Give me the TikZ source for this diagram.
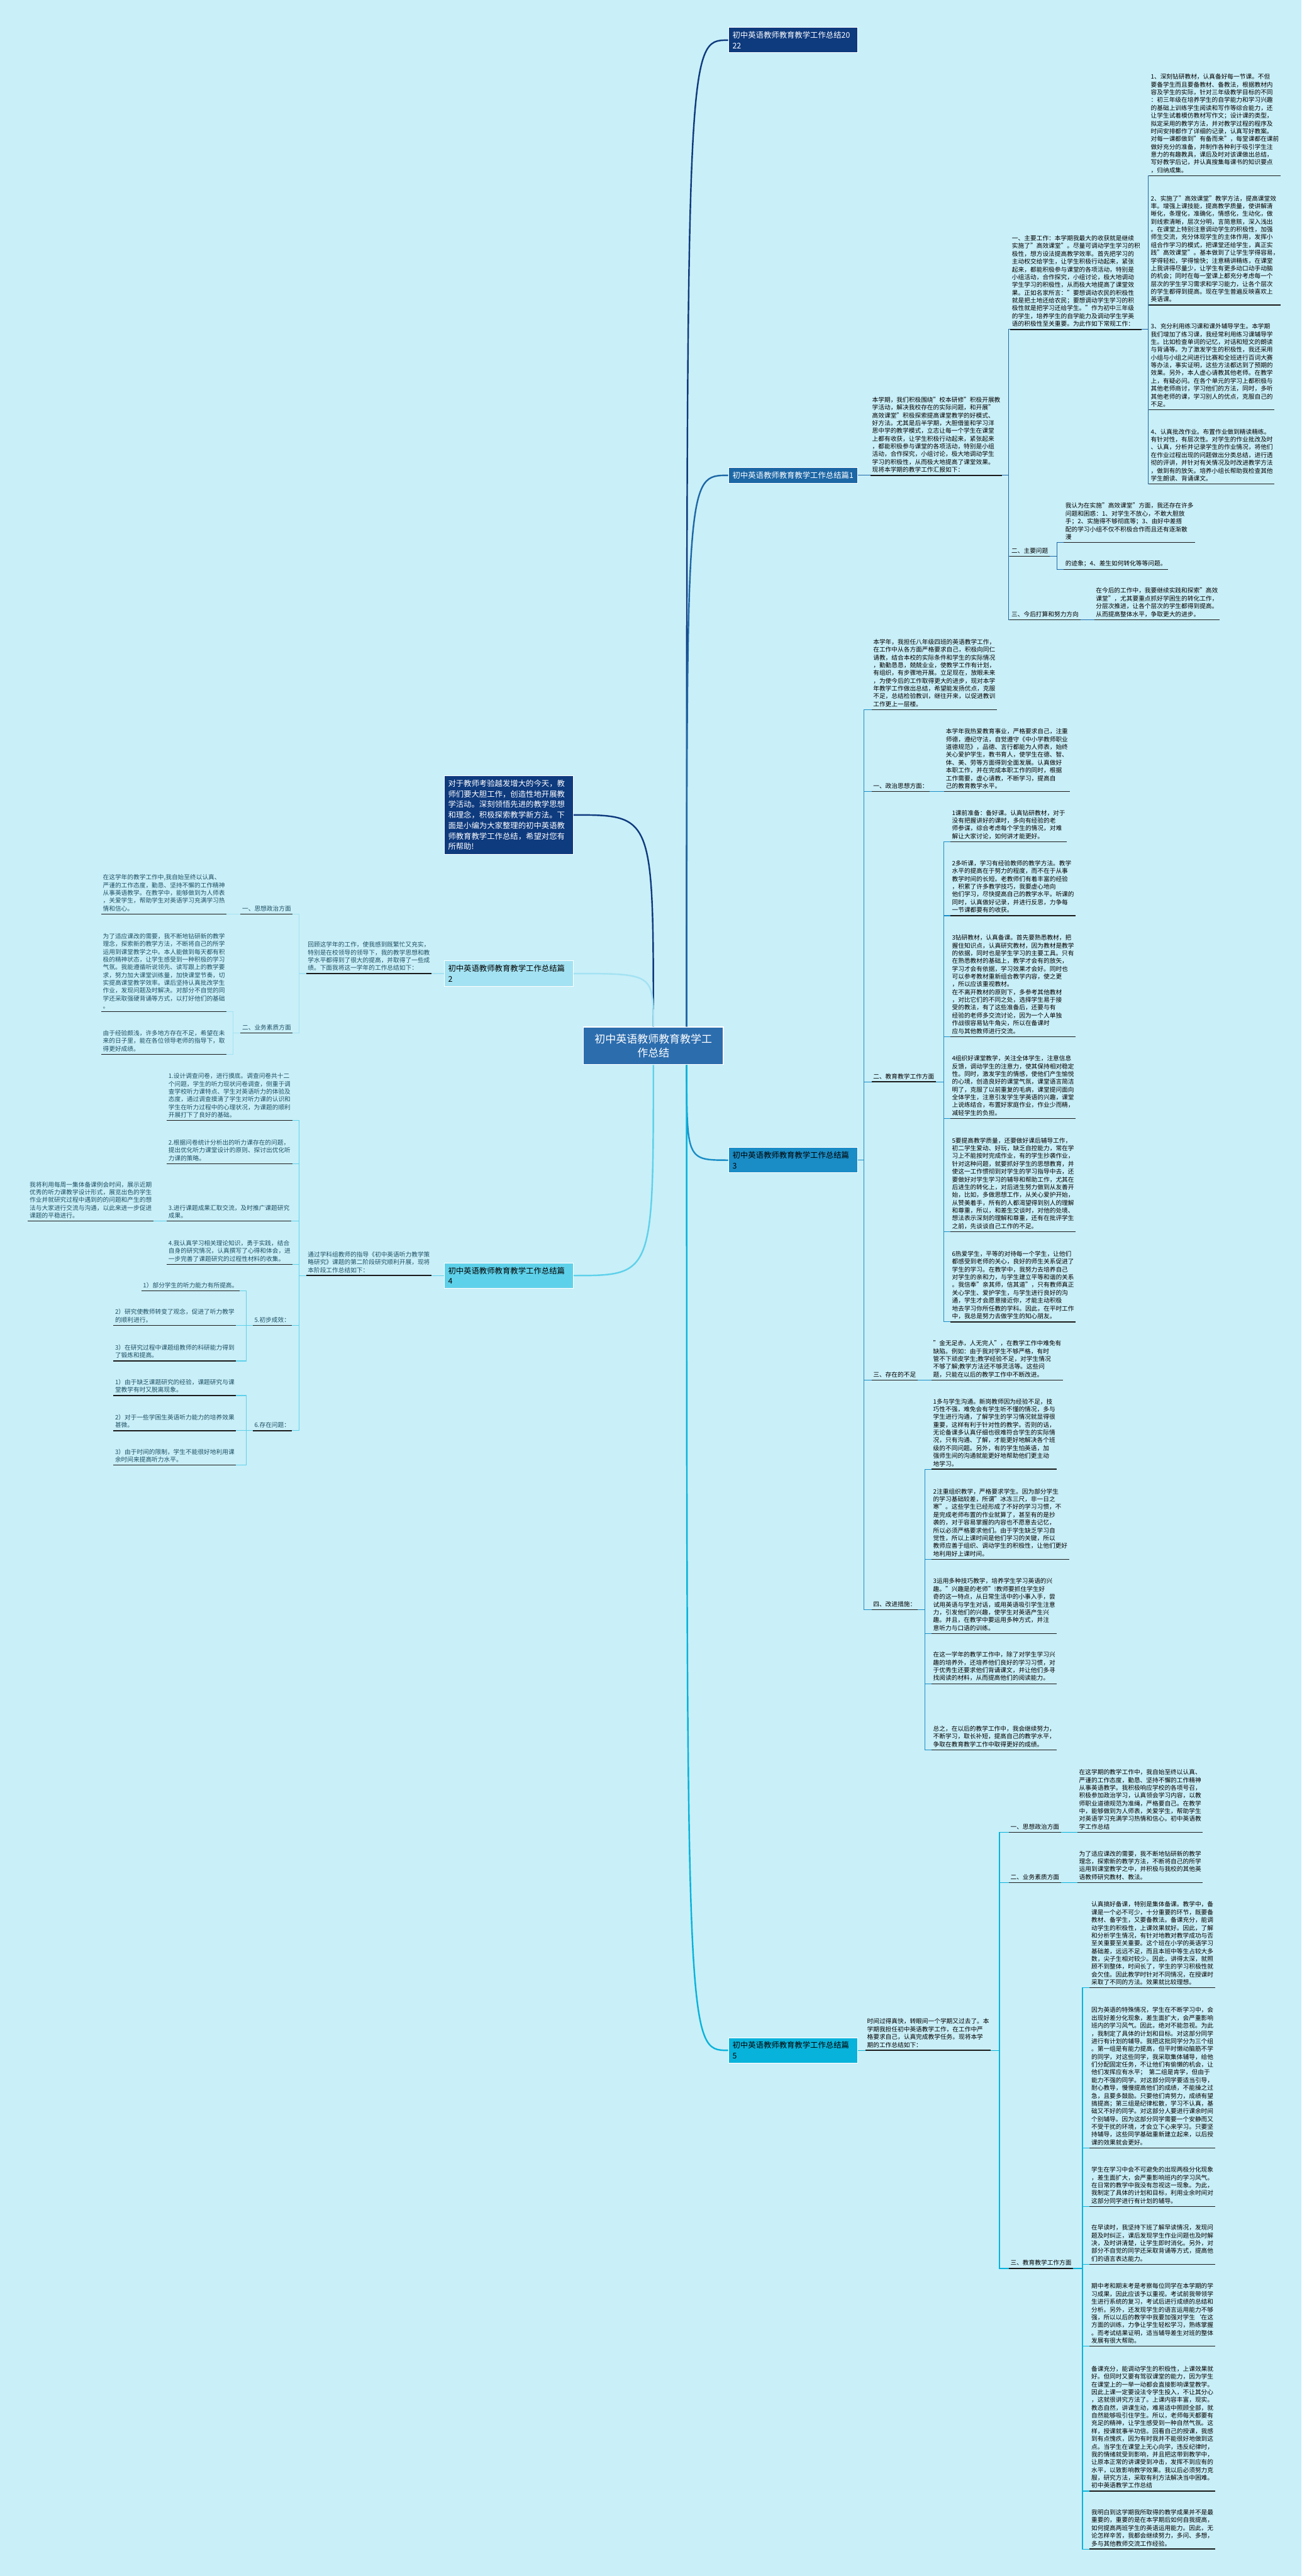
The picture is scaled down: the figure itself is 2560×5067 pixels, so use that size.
\documentclass[tikz,border=0pt]{standalone}
\usepackage{fontspec}
\setmainfont{Noto Sans CJK SC}
\usetikzlibrary{positioning}
\definecolor{mmBg}{HTML}{C9EFF8}
\definecolor{mmRoot}{HTML}{2C6DAE}
\definecolor{mmNavy}{HTML}{0E3A7E}
\definecolor{mmOne}{HTML}{1C67A6}
\definecolor{mmTwo}{HTML}{A3E2F2}
\definecolor{mmThree}{HTML}{1A8DC6}
\definecolor{mmFour}{HTML}{5ED1EA}
\definecolor{mmFive}{HTML}{08B3DB}
\definecolor{mmInk}{HTML}{1D4F63}
\definecolor{mmLine}{HTML}{1A1A1A}

\begin{document}
\begin{tikzpicture}[x=0.5pt, y=-0.5pt,
  topic/.style={draw=white, line width=0.6pt, anchor=west, text width=119pt, align=left,
                inner xsep=4pt, inner ysep=4pt, font=\fontsize{7.65pt}{10.35pt}\selectfont},
  root/.style={draw=white, line width=0.8pt, fill=mmRoot, text=white, align=center,
               minimum width=137.5pt, minimum height=37pt, font=\fontsize{10.5pt}{13.5pt}\selectfont},
  txt/.style={anchor=south west, align=left, inner xsep=1.5pt, inner ysep=2.5pt,
              font=\fontsize{6pt}{7.65pt}\selectfont},
  uline/.style={draw=mmLine, line width=0.9pt},
  curve/.style={line width=1.5pt},
  br/.style={line width=0.8pt},
]

% ── canvas ────────────────────────────────────────────────────────────────────
\fill[mmBg] (0,0) rectangle (2560,5067);
\useasboundingbox (0,0) rectangle (2560,5067);

% ── centre and first level ───────────────────────────────────────────────────
\node[root] (root) at (1285,2057) {初中英语教师教育教学工\\作总结};

\node[topic, fill=mmNavy, text=white] (t2022) at (1432,79) {初中英语教师教育教学工作总结20\\22};
\node[topic, fill=mmOne, text=white] (p1) at (1432,935) {初中英语教师教育教学工作总结篇1};
\node[topic, fill=mmThree] (p3) at (1432,2282) {初中英语教师教育教学工作总结篇\\3};
\node[topic, fill=mmFive] (p5) at (1432,4033) {初中英语教师教育教学工作总结篇\\5};
\node[topic, anchor=east, fill=mmNavy, text=white] (lead) at (1128,1603)
  {对于教师考验越发增大的今天，教\\师们要大胆工作，创造性地开展教\\学活动。深刻领悟先进的教学思想\\和理念，积极探索教学新方法。下\\面是小编为大家整理的初中英语教\\师教育教学工作总结，希望对您有\\所帮助!};
\node[topic, anchor=east, fill=mmTwo] (p2) at (1128,1915) {初中英语教师教育教学工作总结篇\\2};
\node[topic, anchor=east, fill=mmFour] (p4) at (1128,2509) {初中英语教师教育教学工作总结篇\\4};

\draw[curve, mmNavy]  (root.30) .. controls (root.30 |- t2022.west) .. (t2022.west);
\draw[curve, mmOne]   (root.30) .. controls (root.30 |- p1.west) .. (p1.west);
\draw[curve, mmThree] (root.-30) .. controls (root.-30 |- p3.west) .. (p3.west);
\draw[curve, mmFive]  (root.-30) .. controls (root.-30 |- p5.west) .. (p5.west);
\draw[curve, mmNavy]  (root.north) .. controls (root.north |- lead.east) .. (lead.east);
\draw[curve, mmTwo]   (root.north) .. controls (root.north |- p2.east) .. (p2.east);
\draw[curve, mmFour]  (root.south) .. controls (root.south |- p4.east) .. (p4.east);

% ── 篇1 ──────────────────────────────────────────────────────────────────────
\node[txt] (i1) at (1712,935) {本学期，我们积极围绕"校本研修"积极开展教\\学活动，解决我校存在的实际问题，和开展"\\高效课堂"积极探索提高课堂教学的好模式、\\好方法。尤其是后半学期，大胆借鉴和学习洋\\思中学的教学模式，立志让每一个学生在课堂\\上都有收获，让学生积极行动起来，紧张起来\\，都能积极参与课堂的各项活动，特别是小组\\活动，合作探究，小组讨论，极大地调动学生\\学习的积极性，从而极大地提高了课堂效果。\\现将本学期的教学工作汇报如下：};
\node[txt] (a1) at (1987,648) {一、主要工作：本学期我最大的收获就是继续\\实施了"高效课堂"。尽量可调动学生学习的积\\极性，想方设法提高教学效率。首先把学习的\\主动权交给学生，让学生积极行动起来，紧张\\起来，都能积极参与课堂的各项活动，特别是\\小组活动，合作探究，小组讨论，极大地调动\\学生学习的积极性，从而极大地提高了课堂效\\果。正如名家所言："要想调动农民的积极性\\就是把土地还给农民；要想调动学生学习的积\\极性就是把学习还给学生。"作为初中三年级\\的学生，培养学生的自学能力及调动学生学英\\语的积极性至关重要。为此作如下常规工作：};
\node[txt] (a2) at (1986,1094) {二、主要问题};
\node[txt] (a3) at (1986,1219) {三、今后打算和努力方向};
\node[txt] (a1c1) at (2260,346) {1、深刻钻研教材，认真备好每一节课。不但\\要备学生而且要备教材、备教法，根据教材内\\容及学生的实际，针对三年级教学目标的不同\\：初三年级在培养学生的自学能力和学习兴趣\\的基础上训练学生阅读和写作等综合能力，还\\让学生试着模仿教材写作文；设计课的类型，\\拟定采用的教学方法，并对教学过程的程序及\\时间安排都作了详细的记录，认真写好教案。\\对每一课都做到"有备而来"，每堂课都在课前\\做好充分的准备，并制作各种利于吸引学生注\\意力的有趣教具，课后及时对该课做出总结，\\写好教学后记，并认真搜集每课书的知识要点\\，归纳成集。};
\node[txt] (a1c2) at (2260,600) {2、实施了"高效课堂"教学方法，提高课堂效\\率。增强上课技能，提高教学质量，使讲解清\\晰化，条理化，准确化，情感化，生动化，做\\到线索清晰，层次分明，言简意赅，深入浅出\\。在课堂上特别注意调动学生的积极性，加强\\师生交流，充分体现学生的主体作用，发挥小\\组合作学习的模式，把课堂还给学生，真正实\\践"高效课堂"。基本做到了让学生学得容易，\\学得轻松，学得愉快；注意精讲精练，在课堂\\上我讲得尽量少，让学生有更多动口动手动脑\\的机会；同时在每一堂课上都充分考虑每一个\\层次的学生学习需求和学习能力，让各个层次\\的学生都得到提高。现在学生普遍反映喜欢上\\英语课。};
\node[txt] (a1c3) at (2260,806) {3、充分利用练习课和课外辅导学生。本学期\\我们增加了练习课，我经常利用练习课辅导学\\生。比如检查单词的记忆，对话和短文的朗读\\与背诵等。为了激发学生的积极性，我还采用\\小组与小组之间进行比赛和全班进行百词大赛\\等办法，事实证明，这些方法都达到了预期的\\效果。另外，本人虚心请教其他老师。在教学\\上，有疑必问。在各个单元的学习上都积极与\\其他老师商讨，学习他们的方法，同时，多听\\其他老师的课，学习别人的优点，克服自己的\\不足。};
\node[txt] (a1c4) at (2260,952) {4、认真批改作业。布置作业做到精读精练。\\有针对性，有层次性。对学生的作业批改及时\\、认真，分析并记录学生的作业情况，将他们\\在作业过程出现的问题做出分类总结，进行透\\彻的评讲，并针对有关情况及时改进教学方法\\，做到有的放矢。培养小组长帮助我检查其他\\学生朗读、背诵课文。};
\node[txt] (a2c1) at (2092,1067) {我认为在实施"高效课堂"方面，我还存在许多\\问题和困惑：1、对学生不放心，不敢大胆放\\手；2、实施得不够彻底等；3、由好中差搭\\配的学习小组不仅不积极合作而且还有逐渐散\\漫};
\node[txt] (a2c2) at (2092,1120) {的迹象；4、差生如何转化等等问题。};
\node[txt] (a3c) at (2152,1219) {在今后的工作中，我要继续实践和探索"高效\\课堂"，尤其要重点抓好学困生的转化工作，\\分层次推进，让各个层次的学生都得到提高。\\从而提高整体水平，争取更大的进步。};

\draw[br, mmOne] (p1.east) -- (i1.south west);
\foreach \c in {a1,a2,a3} \draw[br, mmOne] (i1.south east) -- ++(13,0) |- (\c.south west);
\foreach \c in {a1c1,a1c2,a1c3,a1c4} \draw[br, mmOne] (a1.south east) -- ++(12,0) |- (\c.south west);
\foreach \c in {a2c1,a2c2} \draw[br, mmOne] (a2.south east) -- ++(14,0) |- (\c.south west);
\draw[br, mmOne] (a3.south east) -- (a3c.south west);

% ── 篇2 ──────────────────────────────────────────────────────────────────────
\node[txt, text=mmInk] (i2) at (602,1915) {回顾这学年的工作，使我感到既繁忙又充实，\\特别是在校领导的领导下，我的教学思想和教\\学水平都得到了很大的提高，并取得了一些成\\绩。下面我将这一学年的工作总结如下：};
\node[txt, text=mmInk] (b1) at (473,1798) {一、思想政治方面};
\node[txt, text=mmInk] (b2) at (473,2032) {二、业务素质方面};
\node[txt, text=mmInk] (b1c) at (199,1798) {在这学年的教学工作中,我自始至终以认真、\\严谨的工作态度，勤恳、坚持不懈的工作精神\\从事英语教学。在教学中，能够做到为人师表\\，关爱学生，帮助学生对英语学习充满学习热\\情和信心。};
\node[txt, text=mmInk] (b2c1) at (199,1990) {为了适应课改的需要，我不断地钻研新的教学\\理念，探索新的教学方法，不断将自己的所学\\运用到课堂教学之中。本人能做到每天都有积\\极的精神状态，让学生感受到一种积极的学习\\气氛。我能遵循听说领先、读写跟上的教学要\\求，努力加大课堂训练量，加快课堂节奏，切\\实提高课堂教学效率。课后坚持认真批改学生\\作业，发现问题及时解决。对部分不自觉的同\\学还采取强硬背诵等方式，以打好他们的基础\\。};
\node[txt, text=mmInk] (b2c2) at (199,2074) {由于经验颇浅，许多地方存在不足，希望在未\\来的日子里，能在各位领导老师的指导下，取\\得更好成绩。};

\draw[br, mmTwo] (p2.west) -- (i2.south east);
\foreach \c in {b1,b2} \draw[br, mmTwo] (i2.south west) -- ++(-14,0) |- (\c.south east);
\draw[br, mmTwo] (b1.south west) -- (b1c.south east);
\foreach \c in {b2c1,b2c2} \draw[br, mmTwo] (b2.south west) -- ++(-15,0) |- (\c.south east);

% ── 篇3 ──────────────────────────────────────────────────────────────────────
\node[txt] (e0) at (1714,1396) {本学年，我担任八年级四班的英语教学工作，\\在工作中从各方面严格要求自己，积极向同仁\\请教，结合本校的实际条件和学生的实际情况\\，勤勤恳恳，兢兢业业，使教学工作有计划，\\有组织，有步骤地开展。立足现在，放眼未来\\，为使今后的工作取得更大的进步，现对本学\\年教学工作做出总结，希望能发扬优点，克服\\不足，总结检验教训，继往开来，以促进教训\\工作更上一层楼。};
\node[txt] (e1) at (1714,1557) {一、政治思想方面：};
\node[txt] (e2) at (1714,2128) {二、教育教学工作方面};
\node[txt] (e3) at (1714,2715) {三、存在的不足};
\node[txt] (e4) at (1714,3166) {四、改进措施：};
\node[txt] (e1c) at (1857,1557) {本学年我热爱教育事业，严格要求自己，注重\\师德，遵纪守法，自觉遵守《中小学教师职业\\道德规范》，品德、言行都能为人师表，始终\\关心爱护学生，教书育人，使学生在德、智、\\体、美、劳等方面得到全面发展。认真做好\\本职工作，并在完成本职工作的同时，根据\\工作需要，虚心请教，不断学习，提高自\\己的教育教学水平。};
\node[txt] (e2c1) at (1869,1656) {1课前准备：备好课。认真钻研教材，对于\\没有把握讲好的课时，多向有经验的老\\师参谋，综合考虑每个学生的情况，对难\\解让大家讨论，如何讲才能更好。};
\node[txt] (e2c2) at (1869,1801) {2多听课，学习有经验教师的教学方法。教学\\水平的提高在于努力的程度，而不在于从事\\教学时间的长短。老教师们有着丰富的经验\\，积累了许多教学技巧，我要虚心地向\\他们学习，尽快提高自己的教学水平。听课的\\同时，认真做好记录，并进行反思，力争每\\一节课都要有的收获。};
\node[txt] (e2c3) at (1869,2039) {3钻研教材，认真备课。首先要熟悉教材，把\\握住知识点，认真研究教材，因为教材是教学\\的依据，同时也是学生学习的主要工具。只有\\在熟悉教材的基础上，教学才会有的放矢，\\学习才会有依据，学习效果才会好。同时也\\可以参考教材重新组合教学内容，使之更\\，所以应该重视教材。\\在不离开教材的原则下，多参考其他教材\\，对比它们的不同之处，选择学生易于接\\受的教法，有了这些准备后，还要与有\\经验的老师多交流讨论，因为一个人单独\\作战很容易钻牛角尖，所以在备课时\\应与其他教师进行交流。};
\node[txt] (e2c4) at (1869,2200) {4组织好课堂教学，关注全体学生，注意信息\\反馈，调动学生的注意力，使其保持相对稳定\\性。同时，激发学生的情感，使他们产生愉悦\\的心境，创造良好的课堂气氛，课堂语言简洁\\明了，克服了以前重复的毛病，课堂提问面向\\全体学生，注意引发学生学英语的兴趣，课堂\\上说练结合，布置好家庭作业，作业少而精，\\减轻学生的负担。};
\node[txt] (e2c5) at (1869,2423) {5要提高教学质量，还要做好课后辅导工作，\\初二学生爱动、好玩，缺乏自控能力，常在学\\习上不能按时完成作业，有的学生抄袭作业，\\针对这种问题，就要抓好学生的思想教育，并\\使这一工作惯彻到对学生的学习指导中去，还\\要做好对学生学习的辅导和帮助工作，尤其在\\后进生的转化上，对后进生努力做到从友善开\\始，比如，多做思想工作，从关心爱护开始，\\从赞美着手，所有的人都渴望得到别人的理解\\和尊重，所以，和差生交谈时，对他的处境、\\想法表示深刻的理解和尊重，还有在批评学生\\之前，先谈谈自己工作的不足。};
\node[txt] (e2c6) at (1869,2600) {6热爱学生，平等的对待每一个学生，让他们\\都感受到老师的关心，良好的师生关系促进了\\学生的学习。在教学中，我努力去培养自己\\对学生的亲和力，与学生建立平等和谐的关系\\。我信奉"亲其师，信其道"，只有教师真正\\关心学生、爱护学生，与学生进行良好的沟\\通，学生才会愿意接近你，才能主动积极\\地去学习你所任教的学科。因此，在平时工作\\中，我总是努力去做学生的知心朋友。};
\node[txt] (e3c) at (1832,2715) {"金无足赤，人无完人"，在教学工作中难免有\\缺陷。例如：由于我对学生不够严格，有时\\管不下顽皮学生;教学经验不足，对学生情况\\不够了解;教学方法还不够灵活等。这些问\\题，只能在以后的教学工作中不断改进。};
\node[txt] (e4c1) at (1832,2890) {1多与学生沟通。新岗教师因为经验不足，技\\巧性不强，难免会有学生听不懂的情况，多与\\学生进行沟通，了解学生的学习情况就显得很\\重要，这样有利于针对性的教学。否则的话，\\无论备课多认真仔细也很难符合学生的实际情\\况，只有沟通、了解，才能更好地解决各个班\\级的不同问题。另外，有的学生怕英语，加\\强师生间的沟通就能更好地帮助他们更主动\\地学习。};
\node[txt] (e4c2) at (1832,3067) {2注重组织教学，严格要求学生。因为部分学生\\的学习基础较差，所谓"冰冻三尺，非一日之\\寒"。这些学生已经形成了不好的学习习惯，不\\是完成老师布置的作业就算了，甚至有的是抄\\袭的，对于容易掌握的内容也不愿意去记忆，\\所以必须严格要求他们。由于学生缺乏学习自\\觉性，所以上课时间是他们学习的关键，所以\\教师应善于组织、调动学生的积极性，让他们更好\\地利用好上课时间。};
\node[txt] (e4c3) at (1832,3213) {3运用多种技巧教学，培养学生学习英语的兴\\趣。"兴趣是的老师"!教师要抓住学生好\\奇的这一特点，从日常生活中的小事入手，尝\\试用英语与学生对话，或用英语吸引学生注意\\力，引发他们的兴趣，使学生对英语产生兴\\趣。并且，在教学中要运用多种方式，并注\\意听力与口语的训练。};
\node[txt] (e4c4) at (1832,3312) {在这一学年的教学工作中，除了对学生学习兴\\趣的培养外，还培养他们良好的学习习惯，对\\于优秀生还要求他们背诵课文，并让他们多寻\\找阅读的材料，从而提高他们的阅读能力。};
\node[txt] (e4c5) at (1832,3442) {总之，在以后的教学工作中，我会继续努力，\\不断学习，取长补短，提高自己的教学水平，\\争取在教育教学工作中取得更好的成绩。};

\foreach \c in {e0,e1,e2,e3,e4} \draw[br, mmThree] (p3.east) -- ++(12,0) |- (\c.south west);
\draw[br, mmThree] (e1.south east) -- (e1c.south west);
\foreach \c in {e2c1,e2c2,e2c3,e2c4,e2c5,e2c6} \draw[br, mmThree] (e2.south east) -- ++(15,0) |- (\c.south west);
\draw[br, mmThree] (e3.south east) -- (e3c.south west);
\foreach \c in {e4c1,e4c2,e4c3,e4c4,e4c5} \draw[br, mmThree] (e4.south east) -- ++(14,0) |- (\c.south west);

% ── 篇4 ──────────────────────────────────────────────────────────────────────
\node[txt, text=mmInk] (i4) at (602,2509) {通过学科组教师的指导《初中英语听力教学策\\略研究》课题的第二阶段研究顺利开展，现将\\本阶段工作总结如下：};
\node[txt, text=mmInk] (d1) at (328,2204) {1.设计调查问卷，进行摸底。调查问卷共十二\\个问题，学生的听力现状问卷调查，侧重于调\\查学校听力课特点、学生对英语听力的体验及\\态度，通过调查摸清了学生对听力课的认识和\\学生在听力过程中的心理状况，为课题的顺利\\开展打下了良好的基础。};
\node[txt, text=mmInk] (d2) at (328,2289) {2.根据问卷统计分析出的听力课存在的问题，\\提出优化听力课堂设计的原则、探讨出优化听\\力课的策略。};
\node[txt, text=mmInk] (d3) at (328,2402) {3.进行课题成果汇取交流，及时推广课题研究\\成果。};
\node[txt, text=mmInk] (d4) at (328,2487) {4.我认真学习相关理论知识，勇于实践，结合\\自身的研究情况，认真撰写了心得和体会，进\\一步完善了课题研究的过程性材料的收集。};
\node[txt, text=mmInk] (d5) at (497,2607) {5.初步成效：};
\node[txt, text=mmInk] (d6) at (497,2814) {6.存在问题：};
\node[txt, text=mmInk] (d3c) at (55,2402) {我将利用每周一集体备课例会时间，展示近期\\优秀的听力课教学设计形式，展览出色的学生\\作业并就研究过程中遇到的的问题和产生的想\\法与大家进行交流与沟通，以此来进一步促进\\课题的平稳进行。};
\node[txt, text=mmInk] (d5c1) at (278,2539) {1）部分学生的听力能力有所提高。};
\node[txt, text=mmInk] (d5c2) at (223,2607) {2）研究使教师转变了观念，促进了听力教学\\的顺利进行。};
\node[txt, text=mmInk] (d5c3) at (223,2677) {3）在研究过程中课题组教师的科研能力得到\\了锻炼和提高。};
\node[txt, text=mmInk] (d6c1) at (223,2745) {1）由于缺乏课题研究的经验，课题研究与课\\堂教学有时又脱离现象。};
\node[txt, text=mmInk] (d6c2) at (223,2814) {2）对于一些学困生英语听力能力的培养效果\\甚微。};
\node[txt, text=mmInk] (d6c3) at (223,2882) {3）由于时间的限制，学生不能很好地利用课\\余时间来提高听力水平。};

\draw[br, mmFour] (p4.west) -- (i4.south east);
\foreach \c in {d1,d2,d3,d4,d5,d6} \draw[br, mmFour] (i4.south west) -- ++(-14,0) |- (\c.south east);
\draw[br, mmFour] (d3.south west) -- (d3c.south east);
\foreach \c in {d5c1,d5c2,d5c3} \draw[br, mmFour] (d5.south west) -- ++(-13,0) |- (\c.south east);
\foreach \c in {d6c1,d6c2,d6c3} \draw[br, mmFour] (d6.south west) -- ++(-13,0) |- (\c.south east);

% ── 篇5 ──────────────────────────────────────────────────────────────────────
\node[txt] (i5) at (1702,4033) {时间过得真快，转眼间一个学期又过去了。本\\学期我担任初中英语教学工作，在工作中严\\格要求自己，认真完成教学任务。现将本学\\期的工作总结如下：};
\node[txt] (f1) at (1984,3604) {一、思想政治方面};
\node[txt] (f2) at (1984,3703) {二、业务素质方面};
\node[txt] (f3) at (1984,4462) {三、教育教学工作方面};
\node[txt] (f1c) at (2119,3604) {在这学期的教学工作中，我自始至终以认真、\\严谨的工作态度，勤恳、坚持不懈的工作精神\\从事英语教学。我积极响应学校的各项号召，\\积极参加政治学习，认真领会学习内容，以教\\师职业道德规范为准绳，严格要自己。在教学\\中，能够做到为人师表，关爱学生，帮助学生\\对英语学习充满学习热情和信心。初中英语教\\学工作总结};
\node[txt] (f2c) at (2119,3703) {为了适应课改的需要，我不断地钻研新的教学\\理念，探索新的教学方法，不断将自己的所学\\运用到课堂教学之中，并积极与我校的其他英\\语教师研究教材、教法。};
\node[txt] (f3c1) at (2143,3910) {认真搞好备课，特别是集体备课。教学中，备\\课是一个必不可少，十分重要的环节，既要备\\教材、备学生，又要备教法。备课充分，能调\\动学生的积极性，上课效果就好。因此，了解\\和分析学生情况，有针对地教对教学成功与否\\至关重要至关重要。这个班在小学的英语学习\\基础差，远远不足，而且本班中等生占较大多\\数，尖子生相对较少。因此，讲得太深，就照\\顾不到整体，时间长了，学生的学习积极性就\\会欠佳。因此教学时针对不同情况，在授课时\\采取了不同的方法。效果就比较理想。};
\node[txt] (f3c2) at (2143,4225) {因为英语的特殊情况，学生在不断学习中，会\\出现好差分化现象，差生面扩大，会严重影响\\班内的学习风气。因此，绝对不能忽视。为此\\，我制定了具体的计划和目标。对这部分同学\\进行有计划的辅导。我把这批同学分为三个组\\。第一组是有能力提高，但平时懒动脑筋不学\\的同学，对这些同学，我采取集体辅导，给他\\们分配固定任务，不让他们有偷懒的机会，让\\他们发挥应有水平；\ \ 第二组是肯学，但由于\\能力不强的同学。对这部分同学要适当引导，\\耐心教导，慢慢提高他们的成绩，不能操之过\\急，且要多鼓励。只要他们肯努力，成绩有望\\搞提高；第三组是纪律松散，学习不认真，基\\础又不好的同学。对这部分人要进行课余时间\\个别辅导。因为这部分同学需要一个安静而又\\不受干扰的环境，才会立下心来学习。只要坚\\持辅导，这些同学基础重新建立起来，以后授\\课的效果就会更好。};
\node[txt] (f3c3) at (2143,4340) {学生在学习中会不可避免的出现两极分化现象\\，差生面扩大，会严重影响班内的学习风气。\\在日常的教学中我没有忽视这一现象。为此，\\我制定了具体的计划和目标，利用业余时间对\\这部分同学进行有计划的辅导。};
\node[txt] (f3c4) at (2143,4454) {在早读时，我坚持下班了解早读情况，发现问\\题及时纠正，课后发现学生作业问题也及时解\\决，及时讲清楚，让学生即时消化。另外，对\\部分不自觉的同学还采取背诵等方式，提高他\\们的语言表达能力。};
\node[txt] (f3c5) at (2143,4615) {期中考和期末考是考察每位同学在本学期的学\\习成果，因此应该予以重视。考试前我带领学\\生进行系统的复习，考试后进行成绩的总结和\\分析。另外，还发现学生的语言运用能力不够\\强，所以以后的教学中我要加强对学生`在这\\方面的训练，力争让学生轻松学习，熟练掌握\\。而考试结果证明，适当辅导差生对班的整体\\发展有很大帮助。};
\node[txt] (f3c6) at (2143,4900) {备课充分，能调动学生的积极性，上课效果就\\好。但同时又要有驾驭课堂的能力，因为学生\\在课堂上的一举一动都会直接影响课堂教学。\\因此上课一定要设法令学生投入，不让其分心\\，这就很讲究方法了。上课内容丰富，现实。\\教态自然，讲课生动，难易适中照顾全部，就\\自然能够吸引住学生。所以，老师每天都要有\\充足的精神，让学生感受到一种自然气氛。这\\样，授课就事半功倍。回看自己的授课，我感\\到有点愧疚，因为有时我并不能很好地做到这\\点。当学生在课堂上无心向学，违反纪律时，\\我的情绪就受到影响，并且把这带到教学中，\\让原本正常的讲课受到冲击，发挥不到应有的\\水平，以致影响教学效果。我以后必须努力克\\服，研究方法，采取有利方法解决当中困难。\\初中英语教学工作总结};
\node[txt] (f3c7) at (2143,5014) {我明白到这学期我所取得的教学成果并不是最\\重要的，重要的是在本学期后如何自我提高，\\如何提高两班学生的英语运用能力。因此，无\\论怎样辛苦，我都会继续努力，多问、多想，\\多与其他教师交流工作经验。};

\draw[br, mmFive] (p5.east) -- (i5.south west);
\foreach \c in {f1,f2,f3} \draw[br, mmFive] (i5.south east) -- ++(17,0) |- (\c.south west);
\draw[br, mmFive] (f1.south east) -- (f1c.south west);
\draw[br, mmFive] (f2.south east) -- (f2c.south west);
\foreach \c in {f3c1,f3c2,f3c3,f3c4,f3c5,f3c6,f3c7} \draw[br, mmFive] (f3.south east) -- ++(18,0) |- (\c.south west);

% ── underlines under every text ──────────────────────────────────────────────
\foreach \n in {i1,a1,a2,a3,a1c1,a1c2,a1c3,a1c4,a2c1,a2c2,a3c,
                i2,b1,b2,b1c,b2c1,b2c2,
                e0,e1,e2,e3,e4,e1c,e2c1,e2c2,e2c3,e2c4,e2c5,e2c6,e3c,e4c1,e4c2,e4c3,e4c4,e4c5,
                i4,d1,d2,d3,d4,d5,d6,d3c,d5c1,d5c2,d5c3,d6c1,d6c2,d6c3,
                i5,f1,f2,f3,f1c,f2c,f3c1,f3c2,f3c3,f3c4,f3c5,f3c6,f3c7}
  \draw[uline] (\n.south west) -- (\n.south east);

\end{tikzpicture}
\end{document}
